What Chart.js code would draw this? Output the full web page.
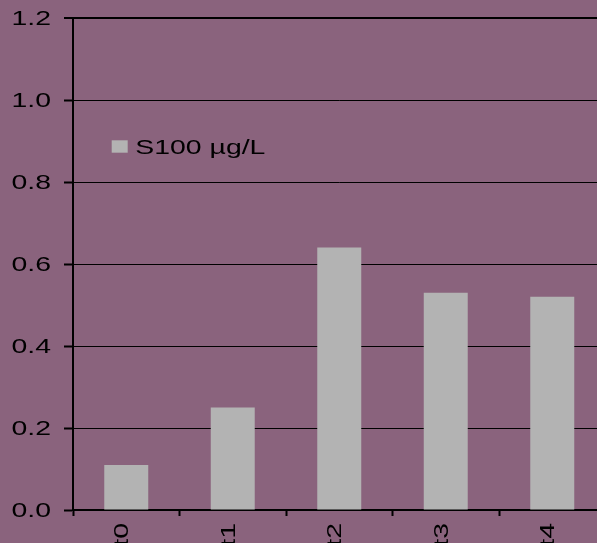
<!DOCTYPE html>
<html>
<head>
<meta charset="utf-8">
<title>S100 µg/L</title>
<script src="https://cdn.jsdelivr.net/npm/chart.js@4/dist/chart.umd.min.js"></script>
<style>
  html, body { margin: 0; padding: 0; overflow: hidden; background: #8a637d; }
  #wrap { width: 610px; height: 543px; }
  canvas { display: block; }
</style>
</head>
<body>
<div id="wrap"><canvas id="chart" width="610" height="543"></canvas></div>
<script>
// Measurement times and S100 concentration
const categories = ['t0', 't1', 't2', 't3', 't4'];
const s100Values = [0.11, 0.25, 0.64, 0.53, 0.52];
const seriesLabel = 'S100 µg/L';
const yTickLabels = ['0.0', '0.2', '0.4', '0.6', '0.8', '1.0', '1.2'];

const BAR_COLOR = '#b3b3b3';
const INK = '#000000';
const TEXT_FONT = '20px "Liberation Sans", Arial, sans-serif';
const TEXT_STRETCH = 1.42;   // wide, horizontally stretched lettering

// Draws axis labels and the legend with horizontally stretched glyphs,
// positioned through the chart's own scales.
const stretchedText = {
  id: 'stretchedText',
  afterDraw(chart, args, opts) {
    const ctx = chart.ctx;
    const xs = chart.scales.x;
    const ys = chart.scales.y;
    const area = chart.chartArea;
    ctx.save();
    ctx.font = TEXT_FONT;
    ctx.fillStyle = INK;
    ctx.textBaseline = 'alphabetic';

    // value axis labels
    ctx.textAlign = 'right';
    ys.ticks.forEach((t, i) => {
      const py = ys.getPixelForValue(t.value);
      ctx.save();
      ctx.translate(ys.right - opts.yGap, py + opts.yBaseline);
      ctx.scale(TEXT_STRETCH, 1);
      ctx.fillText(yTickLabels[i], 0, 0);
      ctx.restore();
    });

    // category labels, reading bottom to top
    categories.forEach((c, i) => {
      const px = xs.getPixelForValue(i);
      ctx.save();
      ctx.translate(px + opts.xBaseline, xs.top + opts.xGap);
      ctx.rotate(-Math.PI / 2);
      ctx.scale(TEXT_STRETCH, 1);
      ctx.textAlign = 'right';
      ctx.fillText(c, 0, 0);
      ctx.restore();
    });

    // legend inside the plot area
    const ds = chart.data.datasets[0];
    const bx = area.left + opts.legendX;
    const by = area.top + opts.legendY;
    ctx.fillStyle = ds.backgroundColor;
    ctx.fillRect(bx, by, opts.boxW, opts.boxH);
    ctx.fillStyle = INK;
    ctx.textAlign = 'left';
    ctx.save();
    ctx.translate(bx + opts.boxW + opts.boxGap, by + opts.textBaseline);
    ctx.scale(TEXT_STRETCH, 1);
    ctx.fillText(ds.label, 0, 0);
    ctx.restore();

    ctx.restore();
  }
};

new Chart(document.getElementById('chart'), {
  type: 'bar',
  data: {
    labels: categories,
    datasets: [{
      label: seriesLabel,
      data: s100Values,
      backgroundColor: BAR_COLOR,
      borderWidth: 0,
      barPercentage: 0.413,
      categoryPercentage: 1.0
    }]
  },
  options: {
    responsive: false,
    devicePixelRatio: 1,
    animation: false,
    layout: { padding: { top: 18, right: 4.5, bottom: 0, left: 0 } },
    plugins: {
      legend: { display: false },
      tooltip: { enabled: false },
      stretchedText: {
        yGap: 22, yBaseline: 7.3,
        xGap: 13, xBaseline: 2,
        legendX: 38.7, legendY: 122.3,
        boxW: 16, boxH: 12.4, boxGap: 7.6, textBaseline: 13.4
      }
    },
    scales: {
      x: {
        offset: true,
        afterFit: (scale) => { scale.height = 33; },
        ticks: { display: false },
        grid: {
          offset: true,
          drawOnChartArea: false,
          drawTicks: true,
          tickLength: 6,
          tickWidth: 2,
          tickColor: INK
        },
        border: { display: true, color: INK, width: 2 }
      },
      y: {
        min: 0,
        max: 1.2,
        afterFit: (scale) => { scale.width = 73; },
        ticks: { display: false, stepSize: 0.2 },
        grid: {
          color: INK,
          lineWidth: (c) => (c.tick && c.tick.value > 1.19 ? 2 : 1),
          drawTicks: true,
          tickLength: 9,
          tickWidth: 2,
          tickColor: INK
        },
        border: { display: true, color: INK, width: 2 }
      }
    }
  },
  plugins: [stretchedText]
});
</script>
</body>
</html>
